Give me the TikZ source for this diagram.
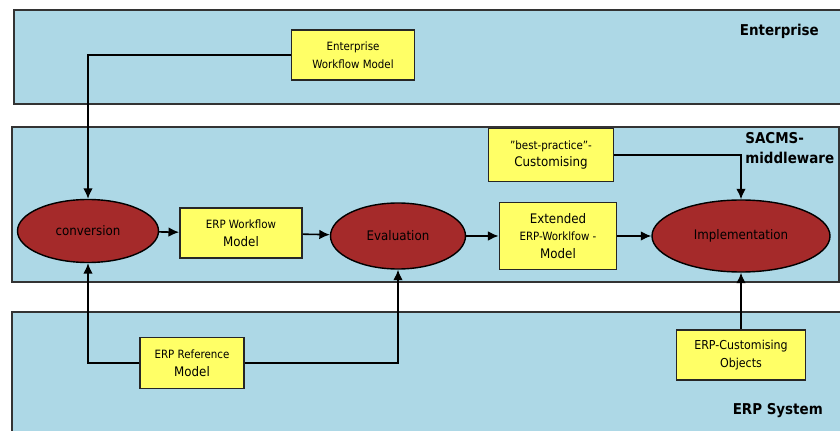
\documentclass[tikz,border=0pt]{standalone}
\usepackage{fontspec}
\setmainfont{DejaVu Sans Condensed}
\usepackage{xcolor}
\usetikzlibrary{positioning}
\usetikzlibrary{shapes.geometric,arrows.meta}

\definecolor{layerblue}{HTML}{ADD8E6}
\definecolor{procred}{HTML}{A52A2A}
\definecolor{modelyellow}{HTML}{FFFF66}

\begin{document}
\begin{tikzpicture}[
      type-layer/.style={draw=black!80, fill=layerblue, line width=1.1pt},
      type-process/.style={ellipse, draw=black, fill=procred, thick, inner sep=0pt,
          font=\fontsize{7.5}{9}\selectfont},
      type-model/.style={rectangle, draw=black!85, fill=modelyellow, line width=1.1pt, align=center,
          inner sep=1pt, font=\fontsize{6.5}{10}\selectfont},
      type-label/.style={font=\bfseries\fontsize{8.5}{11}\selectfont, align=left},
      type-flow/.style={-{Latex[length=6pt,width=5.5pt]}, line width=0.9pt}
    ]
      \useasboundingbox (0,0) rectangle (16.8,8.6);
      % layers
      \draw[type-layer] (0.28,6.52) rectangle (17.2,8.4);
      \draw[type-layer] (0.24,2.96) rectangle (16.78,6.06);
      \draw[type-layer] (0.24,-0.3) rectangle (17.2,2.36);
      \node[type-label, anchor=east] (enterprise) at (16.5,7.98) {Enterprise};
      \node[type-label, anchor=north west, inner sep=0pt] (sacms) at (14.9,5.95) {SACMS-\\middleware};
      \node[type-label, anchor=east] (erpsys) at (16.58,0.38) {ERP System};

      % processes
      \node[type-process, minimum width=2.82cm, minimum height=1.26cm] (conv) at (1.76,3.98) {conversion};
      \node[type-process, minimum width=2.7cm, minimum height=1.32cm] (eval) at (7.96,3.88) {Evaluation};
      \node[type-process, minimum width=3.56cm, minimum height=1.44cm] (impl) at (14.82,3.88) {Implementation};

      % models
      \node[type-model, minimum width=2.46cm, minimum height=1cm] (ewm) at (7.06,7.5) {Enterprise\\Workflow Model};
      \node[type-model, minimum width=2.44cm, minimum height=1cm] (erpwf) at (4.82,3.94) {ERP Workflow\\{\fontsize{7.5}{9}\selectfont Model}};
      \node[type-model, minimum width=2.34cm, minimum height=1.34cm] (ext) at (11.16,3.88)
          {{\fontsize{7.5}{10}\selectfont Extended}\\ERP-Worklfow -\\{\fontsize{7.5}{10}\selectfont Model}};
      \node[type-model, minimum width=2.5cm, minimum height=1.06cm] (bp) at (11.02,5.5)
          {"best-practice"-\\{\fontsize{7.5}{9}\selectfont Customising}};
      \node[type-model, minimum width=2.08cm, minimum height=1.02cm] (erpref) at (3.84,1.34) {ERP Reference\\{\fontsize{7.5}{9}\selectfont Model}};
      \node[type-model, minimum width=2.58cm, minimum height=1cm] (erpco) at (14.82,1.5)
          {{\fontsize{7}{10}\selectfont ERP-Customising}\\{\fontsize{7}{10}\selectfont Objects}};

      % flow
      \draw[type-flow] (conv) -- (erpwf);
      \draw[type-flow] (erpwf) -- (eval);
      \draw[type-flow] (eval) -- (ext);
      \draw[type-flow] (ext) -- (impl);
      \draw[type-flow] (erpco) -- (impl);
      \draw[type-flow] (ewm.west) -| (conv.north);
      \draw[type-flow] (erpref.west) -| (conv.south);
      \draw[type-flow] (erpref.east) -| (eval.south);
      \draw[type-flow] (bp.east) -| (impl.north);
    \end{tikzpicture}
\end{document}
